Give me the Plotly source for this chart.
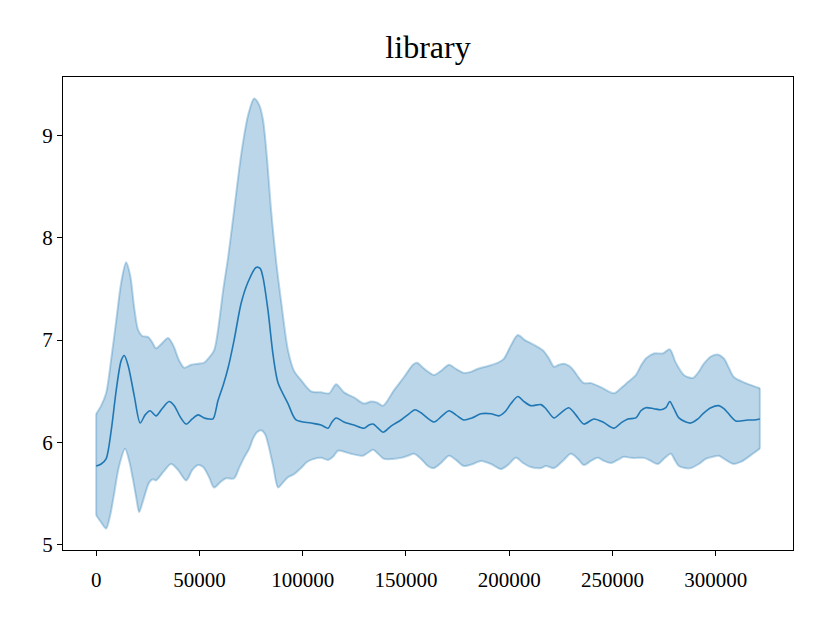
import plotly.graph_objects as go

# ---- data ----
upper_x = [0, 2400, 4800, 7300, 9700, 12100, 14500, 16500, 18400, 20300, 22300, 25200, 27100, 29000,
           31900, 34800, 37300, 40200, 42600, 46000, 49400, 52300, 54700, 57100, 59000, 61500, 63900,
           66800, 69200, 71100, 73600, 76500, 78900, 80800, 82800, 84700, 87100, 89500, 92900, 95800,
           99200, 104100, 108900, 112800, 116200, 120000, 124900, 129700, 133100, 136000, 138900,
           144200, 149100, 153400, 155400, 158300, 163600, 167000, 170900, 174200, 178100, 181500,
           184900, 190200, 194600, 197500, 200900, 204200, 207600, 210500, 216300, 219300, 221700,
           224100, 226500, 228900, 231400, 233800, 236200, 239600, 244400, 250700, 254100, 257500,
           261400, 263800, 266200, 270100, 274400, 277800, 280700, 284600, 288900, 291400, 294300,
           297700, 301000, 304000, 306400, 308800, 314600, 321400]
upper_y = [6.28, 6.36, 6.48, 6.82, 7.19, 7.56, 7.76, 7.63, 7.32, 7.10, 7.04, 7.03, 6.98, 6.92,
           6.97, 7.02, 6.95, 6.80, 6.73, 6.76, 6.77, 6.78, 6.83, 6.90, 7.10, 7.49, 7.81,
           8.27, 8.66, 8.93, 9.20, 9.36, 9.30, 9.15, 8.76, 8.27, 7.78, 7.39, 6.90, 6.70,
           6.61, 6.50, 6.49, 6.48, 6.57, 6.49, 6.44, 6.38, 6.40, 6.39, 6.36,
           6.51, 6.64, 6.76, 6.78, 6.73, 6.66, 6.70, 6.76, 6.72, 6.68, 6.69,
           6.72, 6.75, 6.78, 6.82, 6.95, 7.05, 7.00, 6.97, 6.90, 6.82, 6.74,
           6.76, 6.77, 6.75, 6.70, 6.63, 6.58, 6.58, 6.54, 6.48, 6.53, 6.59,
           6.66, 6.75, 6.82, 6.87, 6.87, 6.91, 6.78, 6.66, 6.63, 6.68, 6.77,
           6.84, 6.86, 6.82, 6.73, 6.64, 6.58, 6.53]

mean_x = [0, 2400, 4800, 7300, 9700, 12100, 13600, 15500, 18400, 21300, 23700, 26100, 29000, 31900,
          35300, 37800, 40700, 43600, 46500, 49400, 52300, 54700, 56600, 59000, 61500, 63900, 66800,
          70200, 73600, 77400, 79400, 80800, 83200, 85700, 88100, 92900, 96800, 104100, 108900,
          112300, 114200, 116200, 120000, 124900, 129700, 132100, 134100, 136500, 138900, 142800,
          147600, 151500, 154400, 157300, 163600, 167500, 170900, 174200, 178100, 182000, 186300,
          191200, 195100, 198000, 200900, 204200, 207200, 210500, 215400, 217800, 221700, 225100,
          228900, 232300, 236200, 241000, 245400, 250700, 254100, 257500, 261400, 263800, 266200,
          270100, 273500, 275900, 277800, 279800, 282200, 285600, 288000, 291400, 293800, 297700,
          301500, 304000, 305900, 309800, 315600, 318500, 321400]
mean_y = [5.77, 5.79, 5.84, 6.12, 6.51, 6.80, 6.85, 6.75, 6.46, 6.19, 6.27, 6.31, 6.26, 6.33,
          6.40, 6.36, 6.25, 6.18, 6.23, 6.27, 6.24, 6.23, 6.23, 6.41, 6.56, 6.73, 7.00,
          7.36, 7.57, 7.71, 7.70, 7.61, 7.29, 6.85, 6.58, 6.38, 6.22, 6.19, 6.17,
          6.14, 6.20, 6.24, 6.20, 6.17, 6.14, 6.17, 6.18, 6.14, 6.10, 6.16,
          6.22, 6.28, 6.32, 6.29, 6.20, 6.26, 6.31, 6.27, 6.22, 6.24, 6.28,
          6.28, 6.26, 6.30, 6.38, 6.45, 6.40, 6.36, 6.37, 6.33, 6.24, 6.29,
          6.34, 6.27, 6.18, 6.23, 6.20, 6.14, 6.19, 6.23, 6.24, 6.31, 6.34,
          6.33, 6.32, 6.34, 6.40, 6.33, 6.24, 6.20, 6.19, 6.23, 6.28, 6.34,
          6.36, 6.33, 6.29, 6.21, 6.22, 6.22, 6.23]

lower_x = [0, 2400, 4800, 6800, 8700, 11100, 14000, 16000, 17900, 19400, 20800, 22700, 25700, 27600,
           29000, 32400, 36300, 39700, 43600, 46500, 49400, 51800, 54700, 57100, 60000, 62900, 66800,
           69200, 71600, 74100, 76000, 77900, 79900, 81800, 83200, 85700, 88100, 90500, 92900, 95800,
           99200, 102100, 105500, 108900, 112300, 114700, 117100, 120000, 123400, 129200, 131600,
           134100, 136500, 139400, 143700, 147600, 151000, 153900, 157300, 160700, 163600, 167000,
           170900, 174200, 178100, 182500, 186300, 191200, 196000, 199400, 203300, 206700, 210500,
           215400, 217800, 221700, 226000, 229900, 233300, 236200, 239600, 243000, 245900, 249300,
           252600, 255600, 258900, 262300, 265200, 268600, 272000, 274900, 278300, 280200, 282200,
           285100, 288000, 291900, 295200, 298600, 301500, 304900, 308800, 312200, 314600, 318000,
           321400]
lower_y = [5.29, 5.22, 5.16, 5.29, 5.50, 5.77, 5.94, 5.82, 5.63, 5.46, 5.32, 5.43, 5.61, 5.64,
           5.63, 5.71, 5.79, 5.73, 5.63, 5.73, 5.78, 5.76, 5.66, 5.56, 5.61, 5.65, 5.65,
           5.75, 5.85, 5.94, 6.04, 6.10, 6.12, 6.08, 5.99, 5.77, 5.56, 5.61, 5.66, 5.69,
           5.75, 5.81, 5.84, 5.85, 5.83, 5.86, 5.92, 5.91, 5.89, 5.87, 5.90,
           5.93, 5.89, 5.84, 5.84, 5.85, 5.87, 5.89, 5.84, 5.77, 5.75, 5.80,
           5.87, 5.83, 5.77, 5.79, 5.82, 5.79, 5.74, 5.78, 5.85, 5.80, 5.76,
           5.75, 5.77, 5.75, 5.82, 5.89, 5.84, 5.78, 5.82, 5.85, 5.82, 5.80,
           5.83, 5.86, 5.85, 5.85, 5.85, 5.82, 5.79, 5.84, 5.89, 5.83, 5.77,
           5.75, 5.75, 5.79, 5.84, 5.86, 5.87, 5.83, 5.79, 5.81, 5.84, 5.89,
           5.94]

x_ticks = [0, 50000, 100000, 150000, 200000, 250000, 300000]
y_ticks = [5, 6, 7, 8, 9]
title_text = "library"

# ---- figure ----
blue = "#1f77b4"
band = "rgba(31,119,180,0.3)"
smooth = 0.8

fig = go.Figure()
# lower edge of the band
fig.add_trace(go.Scatter(
    x=lower_x, y=lower_y, mode="lines",
    line=dict(color=band, width=2, shape="spline", smoothing=smooth),
    hoverinfo="skip", showlegend=False,
))
# upper edge, filled down to the lower edge
fig.add_trace(go.Scatter(
    x=upper_x, y=upper_y, mode="lines", fill="tonexty", fillcolor=band,
    line=dict(color=band, width=2, shape="spline", smoothing=smooth),
    hoverinfo="skip", showlegend=False,
))
# vertical closing edges of the band at both ends
for xe, lo, hi in [(lower_x[0], lower_y[0], upper_y[0]), (lower_x[-1], lower_y[-1], upper_y[-1])]:
    fig.add_trace(go.Scatter(
        x=[xe, xe], y=[lo, hi], mode="lines",
        line=dict(color=band, width=2), hoverinfo="skip", showlegend=False,
    ))
# mean line
fig.add_trace(go.Scatter(
    x=mean_x, y=mean_y, mode="lines",
    line=dict(color=blue, width=1.6, shape="spline", smoothing=smooth), showlegend=False,
))

xmax = max(mean_x)
ymin = min(lower_y)
ymax = max(upper_y)
xpad = 0.05 * xmax
ypad = 0.05 * (ymax - ymin)

axis_common = dict(
    showline=True, linecolor="black", linewidth=1.2, mirror=True,
    ticks="outside", ticklen=5, tickwidth=1.2, tickcolor="black",
    showgrid=False, zeroline=False,
    tickfont=dict(family="Liberation Serif", size=21, color="black"),
)

fig.update_layout(
    width=830, height=623,
    margin=dict(l=55, r=45, t=69, b=81),
    paper_bgcolor="white", plot_bgcolor="white",
    title=dict(text=title_text, x=0.5, xref="paper", y=0.937, yref="container",
               xanchor="center", yanchor="middle",
               font=dict(family="Liberation Serif", size=32, color="black")),
    xaxis=dict(range=[-xpad, xmax + xpad], tickvals=x_ticks,
               ticktext=[str(v) for v in x_ticks], ticklabelstandoff=6, **axis_common),
    yaxis=dict(range=[ymin - ypad, ymax + ypad], tickvals=y_ticks,
               ticktext=[str(v) for v in y_ticks], **axis_common),
)

fig.write_html("out.html")
